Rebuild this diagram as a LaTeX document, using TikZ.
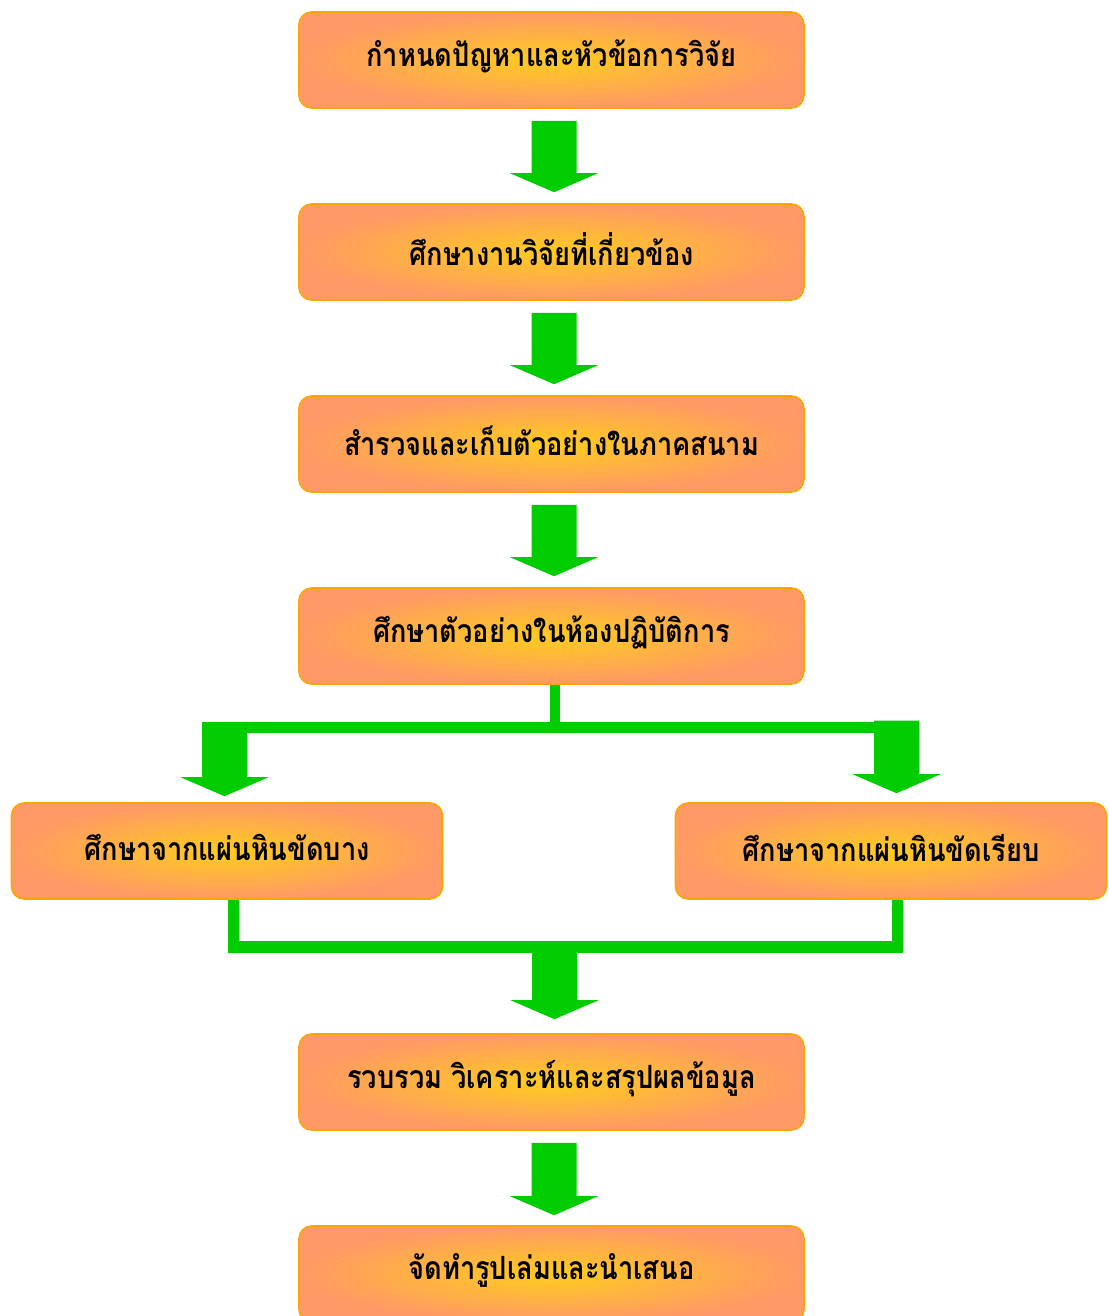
\documentclass[tikz,border=0pt]{standalone}
\usepackage{fontspec}
\newfontfamily\thaifont[Script=Thai,FakeStretch=0.85]{Loma}
\usetikzlibrary{calc}
\definecolor{boxout}{RGB}{255,153,102}
\definecolor{boxin}{RGB}{255,204,30}
\definecolor{boxline}{RGB}{255,165,0}
\definecolor{agreen}{RGB}{0,204,0}
\tikzset{
  stepbox/.style={draw=boxline, line width=1.2pt, rounded corners=9.5pt,
    inner color=boxin, outer color=boxout,
    minimum width=378.75pt, minimum height=72pt, inner sep=0pt,
    font=\thaifont\bfseries\fontsize{24}{28}\selectfont},
  sidebox/.style={stepbox, minimum width=323.25pt},
  conn/.style={fill=agreen, draw=none}
}
\newcommand\tx[1]{\raisebox{2.5pt}[\height][\depth]{#1}}
% block arrow: #1 = top centre of shaft, #2 = tip
\newcommand\garrow[2]{%
  \fill[conn] ($(#1)+(-22.5,0)$) -- ($(#1)+(22.5,0)$) -- ($(#2)+(22.5,-19)$)
    -- ($(#2)+(44,-19)$) -- (#2) -- ($(#2)+(-44,-19)$) -- ($(#2)+(-22.5,-19)$) -- cycle;}
\begin{document}
\begin{tikzpicture}[x=0.75pt,y=-0.75pt]
\useasboundingbox (0,0) rectangle (1108,1316);
\node[stepbox] (b1) at (551.5,60) {\tx{กำหนดปัญหาและหัวข้อการวิจัย}};
\node[stepbox] (b2) at (551.5,252) {\tx{ศึกษางานวิจัยที่เกี่ยวข้อง}};
\node[stepbox] (b3) at (551.5,444) {\tx{สำรวจและเก็บตัวอย่างในภาคสนาม}};
\node[stepbox] (b4) at (551.5,636) {\tx{ศึกษาตัวอย่างในห้องปฏิบัติการ}};
\node[sidebox] (b5) at (227,851) {\tx{ศึกษาจากแผ่นหินขัดบาง}};
\node[sidebox] (b6) at (891,851) {\tx{ศึกษาจากแผ่นหินขัดเรียบ}};
\node[stepbox] (b7) at (551.5,1082) {\tx{รวบรวม วิเคราะห์และสรุปผลข้อมูล}};
\node[stepbox] (b8) at (551.5,1274) {\tx{จัดทำรูปเล่มและนำเสนอ}};

% straight arrows
\coordinate (a1t) at ($(b1.south)+(2.5,12)$);
\coordinate (a1e) at ($(b2.north)+(2.5,-11)$);
\garrow{a1t}{a1e}
\coordinate (a2t) at ($(b2.south)+(2.5,12)$);
\coordinate (a2e) at ($(b3.north)+(2.5,-11)$);
\garrow{a2t}{a2e}
\coordinate (a3t) at ($(b3.south)+(2.5,12)$);
\coordinate (a3e) at ($(b4.north)+(2.5,-11)$);
\garrow{a3t}{a3e}
\coordinate (a7t) at ($(b7.south)+(2.5,12)$);
\coordinate (a7e) at ($(b8.north)+(2.5,-10)$);
\garrow{a7t}{a7e}

% split
\coordinate (sv) at ($(b4.south)+(3.5,0)$);
\fill[conn] ($(sv)+(-5.25,0)$) rectangle ($(sv|-0,723)+(5.25,0)$);
\coordinate (bl) at (202,722);
\coordinate (br) at (919,733);
\fill[conn] (bl) rectangle (br);
\coordinate (l1t) at (224.5,722);
\coordinate (l1e) at ($(b5.north)+(-2.5,-6)$);
\garrow{l1t}{l1e}
\coordinate (r1t) at (896.5,720.7);
\coordinate (r1e) at ($(b6.north)+(5.5,-9)$);
\garrow{r1t}{r1e}

% merge
\coordinate (ml) at ($(b5.south)+(6.5,0)$);
\coordinate (mr) at ($(b6.south)+(6.5,0)$);
\fill[conn] ($(ml)+(-5.5,0)$) rectangle ($(ml|-0,953)+(5.5,0)$);
\fill[conn] ($(mr)+(-5.5,0)$) rectangle ($(mr|-0,953)+(5.5,0)$);
\fill[conn] ($(ml|-0,941)+(-5.5,0)$) rectangle ($(mr|-0,953)+(5.5,0)$);
\coordinate (m1t) at (554.5,952);
\coordinate (m1e) at ($(b7.north)+(3,-14)$);
\garrow{m1t}{m1e}
\end{tikzpicture}
\end{document}
